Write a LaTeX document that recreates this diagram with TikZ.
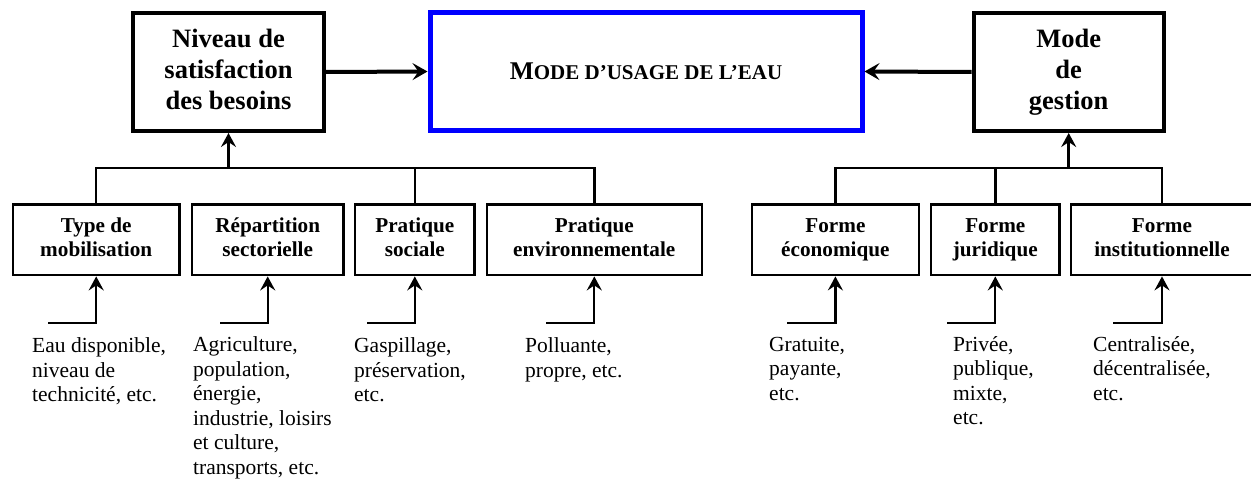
\documentclass[tikz,border=0pt]{standalone}
\usepackage{fontspec}
\setmainfont{Liberation Serif}
\usetikzlibrary{arrows.meta}
\definecolor{pureblue}{RGB}{0,0,255}
\begin{document}
\begin{tikzpicture}[x=1pt,y=-1pt,
  topbox/.style={draw,line width=4pt,inner sep=0pt,minimum height=118pt,align=center,
    font=\bfseries\fontsize{26.5}{31}\selectfont},
  mainbox/.style={draw=pureblue,line width=5pt,inner sep=0pt,minimum height=118pt,minimum width=432pt,align=center},
  subbox/.style={draw,line width=2.3pt,inner sep=0pt,minimum height=70.7pt,align=center,
    font=\bfseries\fontsize{21.2}{24}\selectfont},
  note/.style={anchor=north west,inner sep=0pt,align=left,font=\fontsize{21.5}{24.5}\selectfont},
  bigarrow/.style={line width=4pt,-{Stealth[length=15pt,width=17pt,inset=6pt]}},
  uparrow/.style={line width=2.7pt,-{Stealth[length=14pt,width=15pt,inset=5pt]}},
  conn/.style={line width=2.5pt},
  smallarrow/.style={line width=2.3pt,-{Stealth[length=14pt,width=15pt,inset=5pt]}}
]
\useasboundingbox (0,0) rectangle (1251,479);
\clip (0,0) rectangle (1251,479);

% top row
\node[topbox,minimum width=191pt] (niv) at (228.5,72) {\strut Niveau de\\satisfaction\\\strut des besoins};
\node[mainbox] (usage) at (646,71.5) {\bfseries\fontsize{25.5}{30}\selectfont M\fontsize{21}{30}\selectfont ODE D’USAGE DE L’EAU};
\node[topbox,minimum width=190pt] (mode) at (1068.7,72) {\strut Mode\\de\\\strut gestion};

\draw[bigarrow] (niv.east) -- (usage.west);
\draw[bigarrow] (mode.west) -- (usage.east);

% lower boxes
\node[subbox,minimum width=166.7pt] (type) at (96.2,239.9) {\strut Type de\\\strut mobilisation};
\node[subbox,minimum width=151.7pt] (rep) at (267.7,239.9) {\strut Répartition\\\strut sectorielle};
\node[subbox,minimum width=119.5pt] (soc) at (414.8,239.9) {\strut Pratique\\\strut sociale};
\node[subbox,minimum width=215.1pt] (env) at (594.3,239.9) {\strut Pratique\\\strut environnementale};
\node[subbox,minimum width=166.8pt] (eco) at (835.4,239.9) {\strut Forme\\\strut économique};
\node[subbox,minimum width=128.5pt] (jur) at (995.3,239.9) {\strut Forme\\\strut juridique};
\node[subbox,minimum width=182pt] (inst) at (1162,239.9) {\strut Forme\\\strut institutionnelle};

% buses
\coordinate (busL) at (228.5,168);
\coordinate (busR) at (1068.7,168);
\draw[conn] (type.north) |- (busL) -| (env.north);
\draw[conn] (soc.north) -- (soc.north |- busL);
\draw[uparrow] (busL) -- (niv.south);
\draw[conn] (eco.north) |- (busR) -| (inst.north);
\draw[conn] (jur.north) -- (jur.north |- busR);
\draw[uparrow] (busR) -- (mode.south);

% small input arrows
\coordinate (inType) at (48,323);
\coordinate (inRep) at (220,323);
\coordinate (inSoc) at (367,323);
\coordinate (inEnv) at (546,323);
\coordinate (inEco) at (787,323);
\coordinate (inJur) at (947,323);
\coordinate (inInst) at (1113,323);
\draw[smallarrow] (inType) -| (type.south);
\draw[smallarrow] (inRep) -| (rep.south);
\draw[smallarrow] (inSoc) -| (soc.south);
\draw[smallarrow] (inEnv) -| (env.south);
\draw[smallarrow] (inEco) -| (eco.south);
\draw[smallarrow] (inJur) -| (jur.south);
\draw[smallarrow] (inInst) -| (inst.south);

% notes
\node[note] (nType) at (32,335.35) {\strut Eau disponible,\\niveau de\\technicité, etc.};
\node[note] (nRep) at (193,334.35) {\strut Agriculture,\\population,\\énergie,\\industrie, loisirs\\et culture,\\transports, etc.};
\node[note] (nSoc) at (354,335.35) {\strut Gaspillage,\\préservation,\\etc.};
\node[note] (nEnv) at (525,335.35) {\strut Polluante,\\propre, etc.};
\node[note] (nEco) at (769,333.85) {\strut Gratuite,\\payante,\\etc.};
\node[note] (nJur) at (953,333.85) {\strut Privée,\\publique,\\mixte,\\etc.};
\node[note] (nInst) at (1093,333.85) {\strut Centralisée,\\décentralisée,\\etc.};
\end{tikzpicture}
\end{document}
